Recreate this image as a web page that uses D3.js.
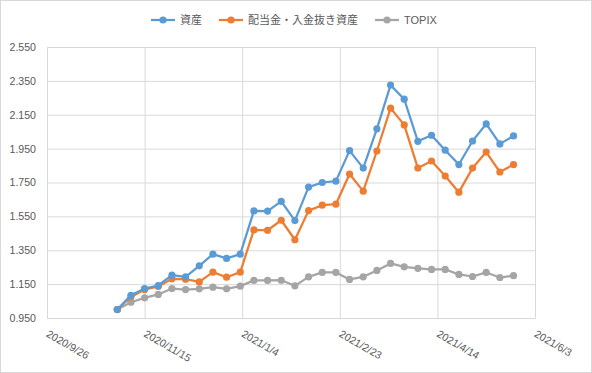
<!DOCTYPE html>
<html>
<head>
<meta charset="utf-8">
<script src="https://cdn.jsdelivr.net/npm/d3@7"></script>
<style>
  html, body { margin: 0; padding: 0; background: #fff; }
  svg text { font-family: "Liberation Sans", "Noto Sans CJK JP", sans-serif; fill: #595959; }
</style>
</head>
<body>
<svg id="chart" width="592" height="373"></svg>
<script>
// weekly dates
var dates = [
  "2020-11-01", "2020-11-08", "2020-11-15", "2020-11-22", "2020-11-29",
  "2020-12-06", "2020-12-13", "2020-12-20", "2020-12-27", "2021-01-03",
  "2021-01-10", "2021-01-17", "2021-01-24", "2021-01-31", "2021-02-07",
  "2021-02-14", "2021-02-21", "2021-02-28", "2021-03-07", "2021-03-14",
  "2021-03-21", "2021-03-28", "2021-04-04", "2021-04-11", "2021-04-18",
  "2021-04-25", "2021-05-02", "2021-05-09", "2021-05-16", "2021-05-23"
];

var assets = [
  1.000, 1.084, 1.124, 1.142, 1.203, 1.193, 1.258, 1.327, 1.302, 1.327,
  1.582, 1.581, 1.639, 1.525, 1.723, 1.750, 1.758, 1.938, 1.835, 2.067,
  2.325, 2.242, 1.993, 2.029, 1.941, 1.856, 1.995, 2.096, 1.978, 2.025
];

var assetsExDeposit = [
  1.000, 1.074, 1.118, 1.136, 1.181, 1.179, 1.163, 1.221, 1.191, 1.221,
  1.470, 1.468, 1.527, 1.412, 1.584, 1.616, 1.622, 1.800, 1.699, 1.936,
  2.189, 2.090, 1.835, 1.877, 1.788, 1.693, 1.835, 1.930, 1.812, 1.856
];

var topix = [
  1.000, 1.043, 1.069, 1.089, 1.124, 1.118, 1.122, 1.132, 1.122, 1.138,
  1.172, 1.172, 1.173, 1.140, 1.193, 1.219, 1.219, 1.178, 1.193, 1.231,
  1.272, 1.252, 1.243, 1.237, 1.237, 1.207, 1.195, 1.219, 1.189, 1.200
];

var xTicks = ["2020-09-26", "2020-11-15", "2021-01-04", "2021-02-23", "2021-04-14", "2021-06-03"];
var yTicks = [0.95, 1.15, 1.35, 1.55, 1.75, 1.95, 2.15, 2.35, 2.55];

var seriesNames = ["資産", "配当金・入金抜き資産", "TOPIX"];
var seriesColors = ["#5b9bd5", "#ed7d31", "#a5a5a5"];
var seriesValues = [assets, assetsExDeposit, topix];

var parse = function (s) {
  var p = s.split("-");
  return new Date(+p[0], +p[1] - 1, +p[2]);
};
var fmt = d3.timeFormat("%Y/%-m/%-d");

var svg = d3.select("#chart");
var W = 592, H = 373;
var M = { left: 47, right: 57, top: 47, bottom: 55 };

svg.append("rect")
  .attr("x", 0.5).attr("y", 0.5)
  .attr("width", W - 1).attr("height", H - 1)
  .attr("fill", "#fff").attr("stroke", "#d9d9d9");

var xScale = d3.scaleTime()
  .domain([parse(xTicks[0]), parse(xTicks[xTicks.length - 1])])
  .range([M.left, W - M.right]);

var yScale = d3.scaleLinear()
  .domain([0.95, 2.55])
  .range([H - M.bottom, M.top]);

// horizontal gridlines
var yAxis = d3.axisLeft(yScale)
  .tickValues(yTicks)
  .tickSize(-(W - M.left - M.right))
  .tickPadding(12)
  .tickFormat(d3.format(".3f"));

var gy = svg.append("g")
  .attr("transform", "translate(" + M.left + ",0)")
  .call(yAxis);
gy.select(".domain").remove();
gy.selectAll("line").attr("stroke", "#d9d9d9");
gy.selectAll("text")
  .attr("x", -11)
  .style("font-size", "10.6px");

// vertical gridlines
var xAxis = d3.axisBottom(xScale)
  .tickValues(xTicks.map(parse))
  .tickSize(-(H - M.top - M.bottom))
  .tickFormat(fmt);

var gx = svg.append("g")
  .attr("transform", "translate(0," + (H - M.bottom) + ")")
  .call(xAxis);
gx.select(".domain").attr("stroke", "#d9d9d9");
gx.selectAll("line").attr("stroke", "#d9d9d9");
gx.selectAll("text")
  .attr("y", 0).attr("dy", 0)
  .attr("text-anchor", "start")
  .attr("transform", "translate(-2,18) rotate(30)")
  .style("font-size", "10.6px");

var line = d3.line()
  .x(function (d, i) { return xScale(parse(dates[i])); })
  .y(function (d) { return yScale(d); });

// draw back to front: TOPIX, then orange, then blue
[2, 1, 0].forEach(function (k) {
  var g = svg.append("g");
  g.append("path")
    .attr("d", line(seriesValues[k]))
    .attr("fill", "none")
    .attr("stroke", seriesColors[k])
    .attr("stroke-width", 2.25)
    .attr("stroke-linejoin", "round");
  g.selectAll("circle")
    .data(seriesValues[k])
    .enter().append("circle")
    .attr("cx", function (d, i) { return xScale(parse(dates[i])); })
    .attr("cy", function (d) { return yScale(d); })
    .attr("r", 3.6)
    .attr("fill", seriesColors[k]);
});

// legend
var legend = svg.append("g");
var lx = 151;
seriesNames.forEach(function (name, k) {
  var item = legend.append("g").attr("transform", "translate(" + lx + ",20)");
  item.append("line")
    .attr("x1", 0).attr("x2", 24)
    .attr("stroke", seriesColors[k]).attr("stroke-width", 2.25);
  item.append("circle")
    .attr("cx", 12).attr("r", 3.6).attr("fill", seriesColors[k]);
  var t = item.append("text")
    .attr("x", 29).attr("dy", "0.36em")
    .style("font-size", "11px")
    .text(name);
  lx += 29 + t.node().getComputedTextLength() + 17;
});
</script>
</body>
</html>
